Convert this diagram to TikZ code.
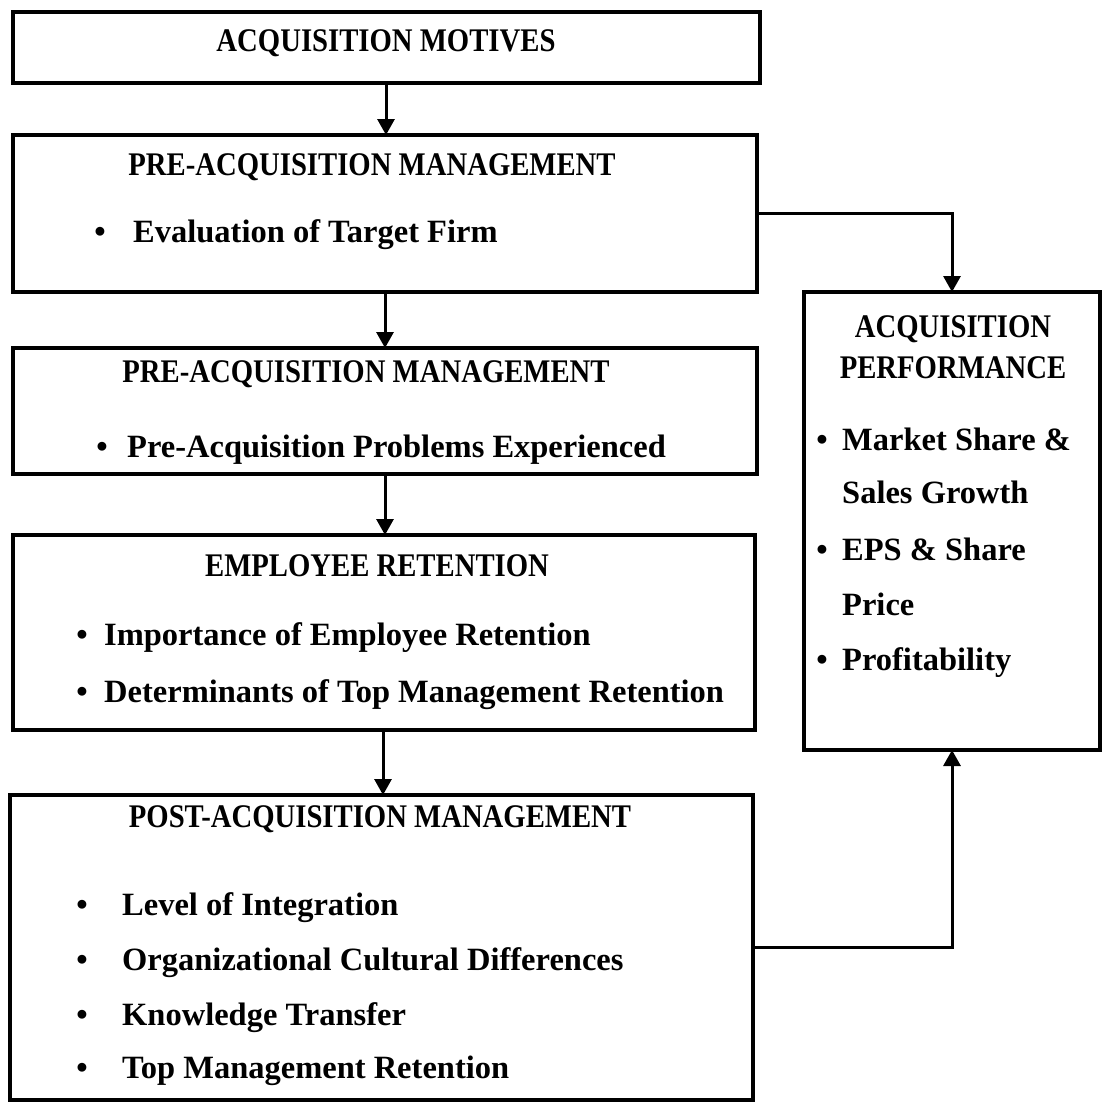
\documentclass[tikz,border=0pt]{standalone}
\usepackage{fontspec}
\setmainfont{Liberation Serif}
\newfontfamily\headfont{Liberation Serif}[FakeStretch=0.87]
\usetikzlibrary{arrows.meta}
\begin{document}
\begin{tikzpicture}[x=1pt,y=-1pt,
  box/.style={draw, line width=3.5pt, inner sep=0pt, outer sep=0pt, rectangle},
  link/.style={line width=3pt, -{Triangle[width=17pt,length=16pt]}},
  head/.style={font={\headfont\bfseries\fontsize{33}{38}\selectfont}, anchor=base, inner sep=0pt},
  item/.style={font={\bfseries\fontsize{32.5}{38}\selectfont}, anchor=base west, inner sep=0pt},
  dot/.style={font={\bfseries\fontsize{32.5}{38}\selectfont}, anchor=base, inner sep=0pt}]
\useasboundingbox[fill=white] (0,0) rectangle (1103,1103);

% boxes
\node[box, minimum width=747pt, minimum height=71pt]  (motives) at (386.5,47.5) {};
\node[box, minimum width=744pt, minimum height=157pt] (pre1)    at (385,213.5) {};
\node[box, minimum width=744pt, minimum height=126pt] (pre2)    at (385,411) {};
\node[box, minimum width=742pt, minimum height=195pt] (emp)     at (384,632.5) {};
\node[box, minimum width=743pt, minimum height=305pt] (post)    at (381.5,947.5) {};
\node[box, minimum width=296pt, minimum height=458pt] (perf)    at (952,521) {};

% texts
\node[head] (tMot) at (386,51) {ACQUISITION MOTIVES};

\node[head] (tPre1) at (372,175) {PRE-ACQUISITION MANAGEMENT};
\node[dot]  (dPre1) at (100,242) {•};
\node[item] (iPre1) at (133,242) {Evaluation of Target Firm};

\node[head] (tPre2) at (366,382) {PRE-ACQUISITION MANAGEMENT};
\node[dot]  (dPre2) at (102,457) {•};
\node[item] (iPre2) at (127,457) {Pre-Acquisition Problems Experienced};

\node[head] (tEmp) at (377,576) {EMPLOYEE RETENTION};
\node[dot]  (dEmpA) at (82,645) {•};
\node[item] (iEmpA) at (104,645) {Importance of Employee Retention};
\node[dot]  (dEmpB) at (82,702) {•};
\node[item] (iEmpB) at (104,702) {Determinants of Top Management Retention};

\node[head] (tPost) at (380,827) {POST-ACQUISITION MANAGEMENT};
\node[dot]  (dPostA) at (82,915) {•};
\node[item] (iPostA) at (122,915) {Level of Integration};
\node[dot]  (dPostB) at (82,970) {•};
\node[item] (iPostB) at (122,970) {Organizational Cultural Differences};
\node[dot]  (dPostC) at (82,1025) {•};
\node[item] (iPostC) at (122,1025) {Knowledge Transfer};
\node[dot]  (dPostD) at (82,1078) {•};
\node[item] (iPostD) at (122,1078) {Top Management Retention};

\node[head] (tPerfA) at (953,337) {ACQUISITION};
\node[head] (tPerfB) at (953,378) {PERFORMANCE};
\node[dot]  (dPerfA) at (822,450) {•};
\node[item] (iPerfA) at (842,450) {Market Share \&};
\node[item] (iPerfA2) at (842,503) {Sales Growth};
\node[dot]  (dPerfB) at (822,560) {•};
\node[item] (iPerfB) at (842,560) {EPS \& Share};
\node[item] (iPerfB2) at (842,615) {Price};
\node[dot]  (dPerfC) at (822,670) {•};
\node[item] (iPerfC) at (842,670) {Profitability};

% connectors
\coordinate (colA) at (386,0);
\coordinate (colB) at (385,0);
\coordinate (colC) at (383,0);
\draw[link] (motives.south -| colA) -- (pre1.north -| colA);
\draw[link] (pre1.south -| colB) -- (pre2.north -| colB);
\draw[link] (pre2.south -| colB) -- (emp.north -| colB);
\draw[link] (emp.south -| colC) -- (post.north -| colC);
\draw[link] (pre1.east) -| (perf.north);
\draw[link] (post.east) -| (perf.south);
\end{tikzpicture}
\end{document}
